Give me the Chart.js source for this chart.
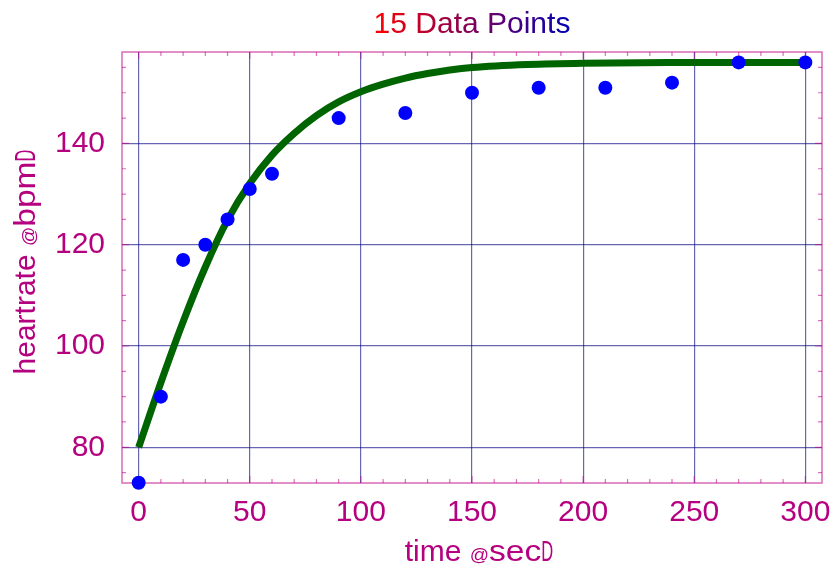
<!DOCTYPE html>
<html>
<head>
<meta charset="utf-8">
<script src="https://cdn.jsdelivr.net/npm/chart.js@4.4.1/dist/chart.umd.min.js"></script>
<style>
html,body{margin:0;padding:0;background:#fff;}
#wrap{width:833px;height:570px;}
</style>
</head>
<body>
<div id="wrap"><canvas id="hrChart" width="833" height="570"></canvas></div>
<script>
// measured heart rate
const timeSec   = [0,10,20,30,40,50,60,90,120,150,180,210,240,270,300];
const heartRate = [73,90,117,120,125,131,134,145,146,150,151,151,152,156,156];

// fitted curve
const fitTime = [0,10,20,30,40,50,60,70,80,90,100,110,120,130,140,150,175,200,250,300];
const fitRate = [80,92.8,104.8,115.6,124.9,132.1,137.7,142,145.5,148.2,150.2,151.7,152.9,153.8,154.5,155,155.6,155.85,155.97,156];

const xTicks = [0,50,100,150,200,250,300];
const yTicks = [80,100,120,140];

const titleText = "15 Data Points";
const xTitle = ["time ", "@", "sec", "D"];
const yTitle = ["heartrate ", "@", "bpm", "D"];

const FONT = "'Liberation Sans', Arial, sans-serif";
const labelColor = "#b5007f";
const frameColor = "rgba(190,0,130,0.55)";
const gridColor = "rgba(0,0,128,0.6)";

// draws the axis title pieces, small @ and narrow bracket like the original
function drawPieces(ctx, pieces, cx, baseY){
    const spec = [{size:30,sx:1},{size:19,sx:1},{size:30,sx:1.12},{size:30,sx:0.55}];
    let widths = pieces.map((p,i)=>{
        ctx.font = spec[i].size+"px "+FONT;
        return ctx.measureText(p).width*spec[i].sx;
    });
    let x = cx - widths.reduce((a,b)=>a+b,0)/2;
    pieces.forEach((p,i)=>{
        ctx.save();
        ctx.translate(x, baseY);
        ctx.scale(spec[i].sx,1);
        ctx.font = spec[i].size+"px "+FONT;
        ctx.fillText(p,0,0);
        ctx.restore();
        x += widths[i];
    });
}

const decor = {
    id:"decor",
    beforeDatasetsDraw(chart){
        const {ctx, chartArea:a, scales:{x,y}} = chart;
        ctx.save();
        ctx.strokeStyle = frameColor;
        ctx.lineWidth = 1.2;
        // minor ticks, inward on all four sides
        ctx.beginPath();
        for(let v=Math.ceil(x.min/10)*10; v<=x.max; v+=10){
            const px = x.getPixelForValue(v);
            const len = v%50===0 ? 7 : 4;
            ctx.moveTo(px,a.bottom); ctx.lineTo(px,a.bottom-len);
            ctx.moveTo(px,a.top); ctx.lineTo(px,a.top+len);
        }
        for(let v=Math.ceil(y.min/5)*5; v<=y.max; v+=5){
            const py = y.getPixelForValue(v);
            const len = v%20===0 ? 7 : 4;
            ctx.moveTo(a.left,py); ctx.lineTo(a.left+len,py);
            ctx.moveTo(a.right,py); ctx.lineTo(a.right-len,py);
        }
        ctx.stroke();
        ctx.lineWidth = 1.6;
        ctx.strokeRect(a.left,a.top,a.right-a.left,a.bottom-a.top);
        ctx.restore();
    },
    afterDraw(chart){
        const {ctx, chartArea:a} = chart;
        ctx.save();
        // title with red to blue gradient
        ctx.font = "30px "+FONT;
        const w = ctx.measureText(titleText).width;
        const cx = (a.left+a.right)/2;
        const g = ctx.createLinearGradient(cx-w/2,0,cx+w/2,0);
        g.addColorStop(0,"#ff0000");
        g.addColorStop(1,"#0000b4");
        ctx.fillStyle = g;
        ctx.textAlign = "center";
        ctx.textBaseline = "alphabetic";
        ctx.fillText(titleText,cx,33);
        ctx.textAlign = "left";
        ctx.fillStyle = labelColor;
        drawPieces(ctx, xTitle, 479, 561);
        ctx.translate(35,262);
        ctx.rotate(-Math.PI/2);
        drawPieces(ctx, yTitle, 0, 0);
        ctx.restore();
    }
};

new Chart(document.getElementById("hrChart"),{
    type:"scatter",
    data:{
        datasets:[
            {
                data:timeSec.map((t,i)=>({x:t,y:heartRate[i]})),
                backgroundColor:"#0000ff",
                borderWidth:0,
                pointRadius:7,
                clip:false,
                order:0
            },
            {
                data:fitTime.map((t,i)=>({x:t,y:fitRate[i]})),
                showLine:true,
                borderColor:"#006400",
                borderWidth:7,
                borderCapStyle:"butt",
                pointRadius:0,
                cubicInterpolationMode:"monotone",
                order:1
            }
        ]
    },
    options:{
        responsive:false,
        animation:false,
        layout:{padding:{left:55,right:11,top:52,bottom:37}},
        plugins:{legend:{display:false},tooltip:{enabled:false},title:{display:false}},
        scales:{
            x:{
                type:"linear", min:-7.5, max:307.5,
                afterBuildTicks:s=>{ s.ticks = xTicks.map(v=>({value:v})); },
                afterFit:s=>{ s.height = 50; s.paddingLeft = 0; s.paddingRight = 0; },
                ticks:{color:labelColor,font:{family:FONT,size:30},padding:11.5,maxRotation:0,autoSkip:false},
                grid:{color:gridColor,lineWidth:1.2,drawTicks:false},
                border:{display:false}
            },
            y:{
                type:"linear", min:72.95, max:158.05,
                afterBuildTicks:s=>{ s.ticks = yTicks.map(v=>({value:v})); },
                afterFit:s=>{ s.width = 67; s.paddingTop = 0; s.paddingBottom = 0; },
                ticks:{color:labelColor,font:{family:FONT,size:30},padding:17,autoSkip:false},
                grid:{color:gridColor,lineWidth:1.2,drawTicks:false},
                border:{display:false}
            }
        }
    },
    plugins:[decor]
});
</script>
</body>
</html>
